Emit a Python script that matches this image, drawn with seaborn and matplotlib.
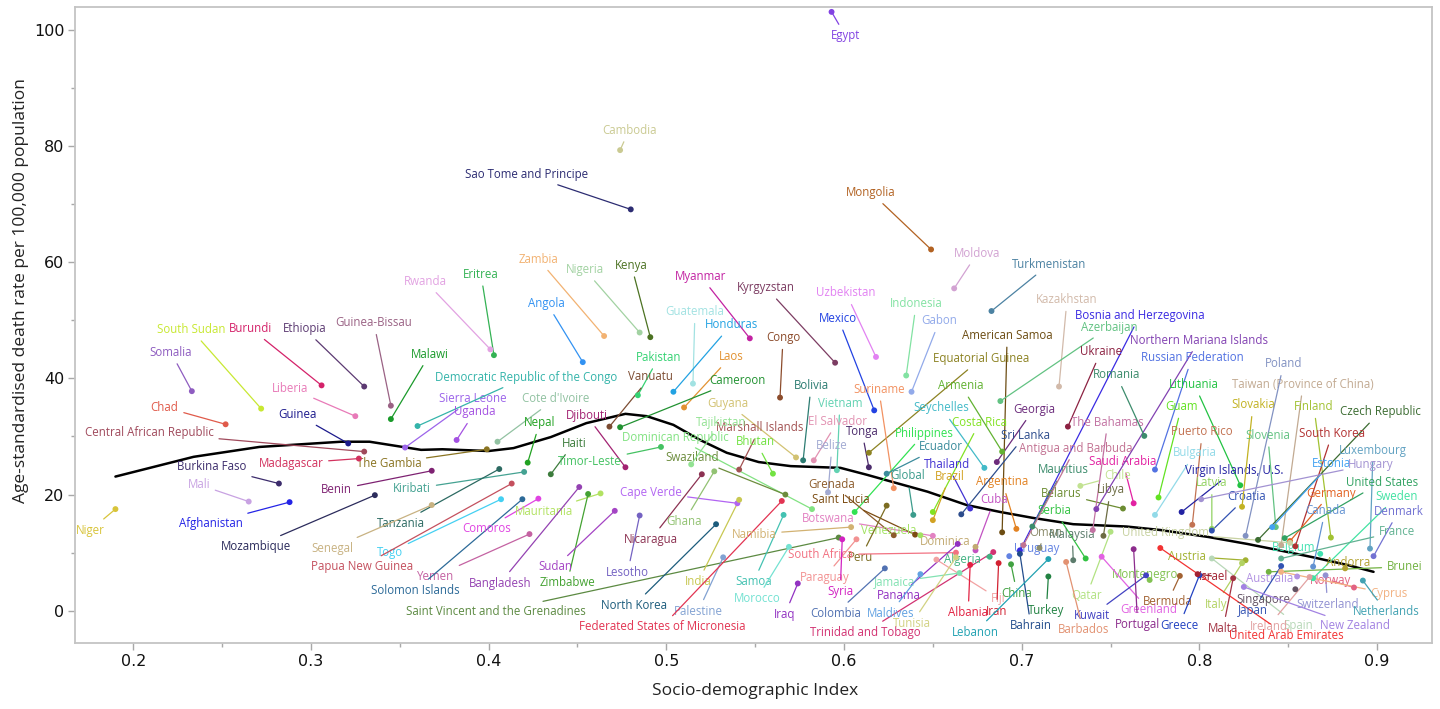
import matplotlib
matplotlib.use("Agg")
from matplotlib import pyplot as plt
from matplotlib.ticker import MultipleLocator, FormatStrFormatter
import seaborn as sns
import pandas as pd

# fmt: off
COUNTRIES = [
    "Niger", "Somalia", "South Sudan", "Burundi", "Ethiopia", "Guinea-Bissau", "Malawi", "Chad",
    "Liberia", "Guinea", "Central African Republic", "Madagascar", "Burkina Faso", "The Gambia",
    "Sierra Leone", "Democratic Republic of the Congo", "Mali", "Afghanistan", "Mozambique", "Benin",
    "Kiribati", "Tanzania", "Senegal", "Togo", "Papua New Guinea", "Yemen", "Solomon Islands",
    "Saint Vincent and the Grenadines", "Comoros", "Mauritania", "Bangladesh", "Zimbabwe", "Sudan",
    "Lesotho", "Nicaragua", "Cape Verde", "Ghana", "North Korea", "India", "Palestine",
    "Federated States of Micronesia", "Samoa", "Morocco", "Iraq", "Namibia", "Rwanda", "Eritrea",
    "Zambia", "Nigeria", "Kenya", "Angola", "Myanmar", "Guatemala", "Honduras", "Pakistan", "Laos",
    "Vanuatu", "Cameroon", "Cote d'Ivoire", "Uganda", "Nepal", "Djibouti", "Haiti", "Timor-Leste",
    "Dominican Republic", "Guyana", "Swaziland", "Marshall Islands", "Bhutan", "Tajikistan",
    "Botswana", "Cambodia", "Sao Tome and Principe", "Egypt", "Mongolia", "Moldova", "Turkmenistan",
    "Kyrgyzstan", "Uzbekistan", "Indonesia", "Gabon", "Mexico", "Congo", "Kazakhstan",
    "American Samoa", "Equatorial Guinea", "Bosnia and Herzegovina", "Armenia", "Azerbaijan",
    "Ukraine", "Suriname", "Bolivia", "Vietnam", "El Salvador", "Tonga", "Belize", "Philippines",
    "Seychelles", "Costa Rica", "Ecuador", "Global", "Thailand", "Brazil", "Argentina", "Cuba",
    "Grenada", "Saint Lucia", "Venezuela", "Peru", "Dominica", "South Africa", "Paraguay", "Syria",
    "Trinidad and Tobago", "Jamaica", "Fiji", "Algeria", "Tunisia", "Panama", "Maldives", "Colombia",
    "Albania", "Iran", "China", "Turkey", "Bahrain", "Lebanon", "Uruguay", "Mauritius", "Oman",
    "Belarus", "Serbia", "Malaysia", "Antigua and Barbuda", "The Bahamas", "Saudi Arabia", "Chile",
    "Libya", "Northern Mariana Islands", "Romania", "Russian Federation", "Lithuania", "Guam",
    "Puerto Rico", "Bulgaria", "Virgin Islands, U.S.", "Latvia", "Croatia",
    "Taiwan (Province of China)", "Slovakia", "Poland", "Slovenia", "Finland", "Czech Republic",
    "South Korea", "Germany", "Luxembourg", "Estonia", "Hungary", "United States", "Sweden",
    "Canada", "Denmark", "France", "Belgium", "Andorra", "Brunei", "United Kingdom", "Austria",
    "Italy", "Spain", "Ireland", "Montenegro", "Greenland", "Kuwait", "Portugal", "Bermuda",
    "Greece", "Israel", "Malta", "United Arab Emirates", "Australia", "Singapore", "Japan",
    "Switzerland", "New Zealand", "Norway", "Cyprus", "Netherlands", "Qatar", "Barbados",
    "Georgia", "Sri Lanka",
]

SDI = [
    0.190, 0.233, 0.272, 0.306, 0.330, 0.345, 0.345, 0.252,
    0.325, 0.321, 0.330, 0.327, 0.282, 0.399,
    0.353, 0.360, 0.265, 0.288, 0.336, 0.368,
    0.420, 0.406, 0.368, 0.407, 0.413, 0.423, 0.419,
    0.597, 0.428, 0.463, 0.451, 0.456, 0.471,
    0.485, 0.520, 0.540, 0.527, 0.528, 0.541, 0.532,
    0.565, 0.566, 0.569, 0.574, 0.604, 0.401, 0.403,
    0.465, 0.485, 0.491, 0.453, 0.547, 0.515, 0.504, 0.484, 0.510,
    0.468, 0.474, 0.405, 0.382, 0.422, 0.477, 0.435, 0.497,
    0.582, 0.573, 0.567, 0.541, 0.560, 0.514,
    0.650, 0.474, 0.480, 0.593, 0.649, 0.662, 0.683,
    0.595, 0.618, 0.635, 0.638, 0.617, 0.564, 0.721,
    0.689, 0.614, 0.699, 0.689, 0.688,
    0.726, 0.628, 0.577, 0.596, 0.583, 0.614, 0.591, 0.606,
    0.679, 0.650, 0.624, 0.639, 0.671, 0.650, 0.697, 0.674,
    0.628, 0.640, 0.643, 0.624, 0.674, 0.663, 0.607, 0.599,
    0.684, 0.665, 0.652, 0.682, 0.663, 0.664, 0.643, 0.623,
    0.671, 0.687, 0.694, 0.715, 0.699, 0.715, 0.693, 0.706, 0.710,
    0.757, 0.736, 0.729, 0.701, 0.740, 0.763, 0.733,
    0.746, 0.742, 0.769, 0.775, 0.823, 0.777,
    0.796, 0.775, 0.790, 0.807, 0.807,
    0.846, 0.824, 0.826, 0.843, 0.874, 0.833,
    0.854, 0.851, 0.896, 0.841, 0.801, 0.848, 0.864,
    0.864, 0.898, 0.846, 0.868, 0.882, 0.839, 0.851, 0.826,
    0.824, 0.807, 0.862, 0.772, 0.745, 0.770, 0.763, 0.789,
    0.800, 0.799, 0.819, 0.778, 0.855, 0.854, 0.846,
    0.871, 0.825, 0.887, 0.846, 0.892, 0.750, 0.725,
    0.686, 0.666,
]

RATE = [
    17.5, 37.8, 34.8, 38.8, 38.6, 35.3, 33.0, 32.1,
    33.5, 28.8, 27.4, 26.2, 21.9, 27.8,
    28.1, 31.8, 18.8, 18.7, 19.9, 24.1,
    23.9, 24.4, 18.2, 19.2, 21.9, 13.2, 19.2,
    12.6, 19.3, 20.2, 21.3, 20.1, 17.2,
    16.4, 23.5, 18.5, 24.0, 14.9, 19.1, 9.2,
    18.9, 16.5, 11.0, 4.7, 14.4, 45.0, 44.0,
    47.3, 47.9, 47.1, 42.8, 46.9, 39.1, 37.7, 37.1, 35.0,
    31.7, 31.6, 29.1, 29.4, 25.5, 24.7, 23.5, 28.2,
    17.5, 26.4, 20.0, 24.3, 23.6, 25.2,
    12.9, 79.3, 69.1, 103.1, 62.2, 55.5, 51.6,
    42.7, 43.7, 40.5, 37.7, 34.5, 36.7, 38.6,
    13.5, 27.2, 10.4, 27.4, 36.1,
    31.7, 21.1, 25.9, 24.2, 25.9, 24.7, 20.4, 17.0,
    24.6, 17.0, 23.6, 16.5, 17.6, 15.6, 14.1, 10.4,
    13.0, 13.1, 13.0, 18.1, 11.0, 10.0, 12.3, 12.3,
    10.1, 6.5, 8.8, 9.3, 9.2, 11.5, 6.3, 7.3,
    7.9, 8.2, 8.0, 5.9, 9.8, 8.9, 9.4, 14.5, 10.8,
    17.6, 9.0, 8.7, 11.3, 13.9, 18.5, 21.5,
    12.9, 17.5, 30.1, 24.3, 21.6, 19.5,
    14.8, 16.5, 17.0, 14.1, 13.8,
    11.3, 17.9, 12.9, 14.4, 12.6, 12.2,
    11.1, 12.0, 10.7, 14.4, 19.2, 12.5, 5.6,
    7.6, 9.4, 9.0, 9.8, 7.3, 6.7, 11.7, 8.7,
    8.2, 9.0, 5.8, 5.3, 9.3, 6.1, 10.6, 6.0,
    6.1, 6.3, 5.6, 10.8, 5.9, 3.7, 7.7,
    6.1, 4.1, 4.0, 6.7, 5.2, 13.6, 8.4,
    25.6, 16.6,
]

# smoothed global trend (black curve)
LOESS_SDI = [
    0.190, 0.234, 0.271, 0.317, 0.333, 0.362, 0.374, 0.400, 0.414, 0.435, 0.455,
    0.477, 0.489, 0.504, 0.519, 0.534, 0.552, 0.570, 0.598, 0.613, 0.627, 0.647,
    0.669, 0.688, 0.706, 0.729, 0.759, 0.778, 0.805, 0.827, 0.845, 0.864, 0.883, 0.898,
]
LOESS_RATE = [
    23.1, 26.5, 28.2, 29.1, 29.1, 27.7, 27.8, 27.5, 28.0, 29.9, 32.3,
    33.9, 33.5, 32.0, 29.4, 27.2, 25.6, 24.9, 24.6, 23.4, 22.2, 20.5,
    18.2, 17.0, 16.0, 14.9, 14.5, 13.9, 12.7, 11.5, 10.4, 9.2, 7.9, 6.7,
]

# label placement, offset of text centre from its point in pixels (dx right, dy up)
LABEL_OFFSETS = [
    (-25, -21), (-21, 39), (-70, 79), (-71, 57), (-60, 58), (-17, 83), (39, 65), (-61, 17),
    (-65, 28), (-51, 29), (-215, 19), (-68, -5), (-67, 17), (-98, -14),
    (68, 49), (109, 49), (-50, 17), (-79, -21), (-119, -51), (-95, -19),
    (-112, -17), (-98, -54), (-99, -43), (-111, -53), (-150, -83), (-94, -42), (-107, -91),
    (-343, -74), (-52, -30), (-57, -18), (-79, -96), (-21, -89), (-59, -56),
    (-12, -57), (-51, -65), (-86, 11), (-30, -50), (-82, -81), (-41, -82), (-25, -54),
    (-120, -126), (-30, -67), (-32, -52), (-13, -31), (-97, -7), (-65, 68), (-13, 81),
    (-66, 77), (-55, 63), (-19, 72), (-36, 59), (-49, 62), (2, 72), (58, 67), (21, 38), (47, 51),
    (41, 50), (117, 47), (58, 43), (18, 28), (12, 40), (-39, 52), (23, 31), (-71, -15),
    (-137, 72), (-68, 54), (-93, 37), (21, 42), (-17, 32), (30, 42),
    (-105, 17), (9, 20), (-104, 35), (14, -24), (-60, 57), (23, 35), (58, 47),
    (-69, 75), (-30, 64), (10, 72), (28, 71), (-36, 92), (3, 60), (8, 87),
    (5, 197), (112, 94), (120, 235), (-41, 66), (109, 74),
    (33, 75), (-15, 99), (8, 75), (3, 67), (24, 39), (-7, 36), (4, 47), (70, 79),
    (-43, 60), (47, 90), (54, 27), (-6, 39), (-23, 44), (17, 44), (-14, 47), (19, 51),
    (-62, 51), (-74, 35), (-32, 5), (-26, -52), (-30, 5), (-135, -2), (-32, -38), (-2, -52),
    (-128, -80), (-65, -9), (62, -39), (-27, -3), (-44, -66), (-59, -52), (-30, -39), (-49, -45),
    (-2, -48), (-2, -48), (6, -29), (-2, -34), (11, -72), (-73, -73), (27, 8), (31, 57), (6, 16),
    (-62, 15), (-31, 48), (-1, 26), (52, 97), (15, 108), (-11, 42), (37, 10),
    (7, 46), (103, 169), (-28, 61), (37, 112), (-46, 101), (23, 91),
    (10, 93), (40, 62), (53, 42), (0, 46), (35, 34),
    (22, 161), (11, 102), (38, 172), (-8, 92), (-17, 131), (122, 128),
    (37, 113), (41, 48), (3, 98), (59, 64), (170, 35), (97, 56), (84, 82),
    (12, 56), (25, 45), (116, 27), (-27, 6), (3, 6), (136, 5), (-125, 10), (-59, 4),
    (-26, -41), (86, -67), (-41, -49), (-5, 5), (47, -53), (-54, -40), (4, -75), (-12, -26),
    (-20, -50), (16, -2), (-10, -50), (126, -87), (-28, -2), (-32, -10), (-28, -44),
    (2, -29), (111, -39), (-23, 7), (108, -22), (23, -31), (-24, -64), (17, -68),
    (37, 53), (64, 79),
]

COLORS = [
    "#d8c43a", "#8e5cc0", "#c8e832", "#d4226a", "#5c3a72", "#9a6284", "#1a9a2a", "#e05a4a",
    "#e87ab8", "#1c1a8c", "#a04a5c", "#d2325e", "#3c2c6c", "#8a7422",
    "#9c64ea", "#34b4aa", "#c8a2e2", "#2424e6", "#2c2c5c", "#7e2272",
    "#44a292", "#2c6a62", "#c8b282", "#44d0f2", "#c4505e", "#c462a2", "#2c6a98",
    "#5c8a42", "#e044e2", "#b2e262", "#9442b2", "#44a232", "#a444c4",
    "#7462c2", "#8c3252", "#b264f2", "#92c272", "#1c5c7c", "#c8c852", "#82a2d2",
    "#e23452", "#44c2b2", "#74e2d2", "#9232c2", "#d2b272", "#e2a2e2", "#34b254",
    "#f2b272", "#a2d2a2", "#4c7222", "#3292f2", "#c222a2", "#a2e2e2", "#22a2e2", "#34d272", "#e29232",
    "#7c4c32", "#229232", "#92c2a2", "#a452e2", "#22a222", "#a22272", "#3c7c3c", "#44c262",
    "#82e282", "#d2c272", "#6c8c3c", "#a25252", "#72e242", "#92e292",
    "#e282c2", "#caca92", "#2c2c72", "#8242e2", "#b26222", "#d2a2d2", "#4c82a2",
    "#7c3c62", "#e282f2", "#82e2a2", "#92aaea", "#2242e2", "#8c4c2c", "#d2baaa",
    "#6c4c12", "#8c8222", "#3a2ae2", "#62b232", "#62c282",
    "#8c2242", "#f29262", "#2c7c72", "#62d2b2", "#e292b2", "#4c2c6c", "#a2aad2", "#32e252",
    "#42bac8", "#82e222", "#3c8c9c", "#3c9c8c", "#4232d2", "#d2a222", "#e28222", "#c252c2",
    "#8c5c2c", "#7c4c12", "#a2e262", "#7c6c22", "#c2aa72", "#f27282", "#f29292", "#d222c2",
    "#d23272", "#82e2b2", "#f2a2a2", "#42b282", "#d2d282", "#9232c2", "#62a2e2", "#5272b2",
    "#e22242", "#d22232", "#42a242", "#228242", "#224c8c", "#22a2b2", "#6282e2", "#3c8c6c", "#8c8c6c",
    "#6c8c32", "#32c242", "#5c7c6c", "#c27292", "#c272a2", "#e222a2", "#c2e292",
    "#6c6c42", "#8242b2", "#3c8c6c", "#5272e2", "#22c242", "#62e222",
    "#c27252", "#92dae8", "#2222a2", "#92d262", "#3252b2",
    "#c2aa92", "#c2b222", "#8292c2", "#62c282", "#a2c232", "#3c6c32",
    "#b23232", "#e26222", "#62a2c2", "#42a2f2", "#a292d2", "#32a262", "#42e2a2",
    "#6292d2", "#7272d2", "#62b292", "#42e2b2", "#b2a232", "#72b242", "#c8d2a2", "#a2b232",
    "#b2d262", "#b8d8b8", "#e2a2a2", "#82c252", "#e262e2", "#4242c2", "#8c2c8c", "#a26232",
    "#2242c2", "#a22232", "#a23242", "#f23232", "#b292e2", "#625262", "#3252b2",
    "#9292d2", "#a282e2", "#e26282", "#f2b282", "#42a2b2", "#b2e282", "#e29272",
    "#6c2c7c", "#2c4c8c",
]
# fmt: on

sns.set_theme(style="white")
plt.rcParams["font.family"] = ["Open Sans", "DejaVu Sans"]

df = pd.DataFrame({"country": COUNTRIES, "sdi": SDI, "rate": RATE})
palette = dict(zip(COUNTRIES, COLORS))

fig = plt.figure(figsize=(14.4, 7.09), dpi=100)
ax = fig.add_axes([0.0524, 0.0927, 0.9418, 0.8979])

sns.lineplot(x=LOESS_SDI, y=LOESS_RATE, color="black", lw=1.8, sort=False, ax=ax, zorder=2)

for name, x, y, (dx, dy), c in zip(COUNTRIES, SDI, RATE, LABEL_OFFSETS, COLORS):
    ax.annotate(
        name, xy=(x, y), xytext=(dx, dy), textcoords="offset pixels",
        ha="center", va="center", fontsize=8.3, color=c, zorder=3,
        arrowprops=dict(arrowstyle="-", color=c, lw=0.9, shrinkA=1.5, shrinkB=0),
    )

sns.scatterplot(
    data=df, x="sdi", y="rate", hue="country", palette=palette,
    s=18, linewidth=0, legend=False, ax=ax, zorder=4,
)

ax.set_xlim(0.1675, 0.9307)
ax.set_ylim(-5.6, 104.0)
ax.xaxis.set_major_locator(MultipleLocator(0.1))
ax.xaxis.set_minor_locator(MultipleLocator(0.05))
ax.xaxis.set_major_formatter(FormatStrFormatter("%.1f"))
ax.yaxis.set_major_locator(MultipleLocator(20))
ax.yaxis.set_minor_locator(MultipleLocator(10))

ax.tick_params(which="major", direction="out", length=5, width=1, color="#a8a8a8",
               labelsize=11.5, labelcolor="#111111", pad=3)
ax.tick_params(which="minor", direction="out", length=3, width=1, color="#a8a8a8")
ax.tick_params(left=True, bottom=True, which="both")
for lab in ax.get_xticklabels() + ax.get_yticklabels():
    lab.set_family("DejaVu Sans")

for sp in ax.spines.values():
    sp.set_color("#c4c4c4")
    sp.set_linewidth(1.3)

ax.set_xlabel("Socio-demographic Index", fontsize=12.5, color="#222222")
ax.set_ylabel("Age-standardised death rate per 100,000 population", fontsize=12.5, color="#222222")
ax.xaxis.set_label_coords(0.5 + (755 - 753.6) / 1356.2, -0.062)
ax.yaxis.set_label_coords(-0.034, (643.3 - 291) / 636.6)
ax.xaxis.label.set_va("top")

fig.savefig("out.png", dpi=100)
